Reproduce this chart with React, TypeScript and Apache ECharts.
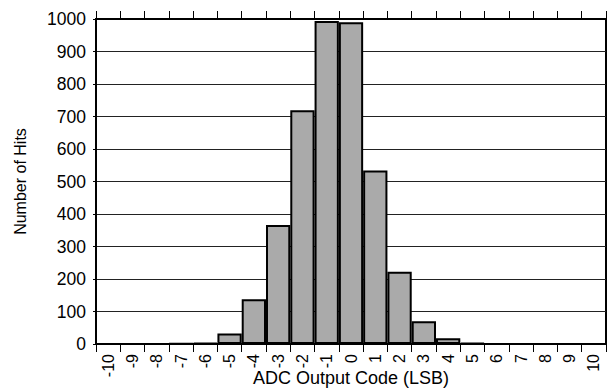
import React, { useEffect, useRef } from "react";
import * as echarts from "echarts";

const categories = ["-10","-9","-8","-7","-6","-5","-4","-3","-2","-1","0","1","2","3","4","5","6","7","8","9","10"];
const hits = [0, 0, 0, 1, 3, 32, 138, 366, 719, 994, 990, 534, 222, 70, 18, 3, 0, 0, 0, 0, 0];
const yTicks = { min: 0, max: 1000, interval: 100 };

const FONT = "Liberation Sans, Arial, sans-serif";

export default function App() {
  const ref = useRef<HTMLDivElement>(null);
  useEffect(() => {
    if (!ref.current) return;
    const chart = echarts.init(ref.current, null, { renderer: "svg" });
    chart.setOption({
      animation: false,
      grid: {
        left: 96, right: 2, top: 19, bottom: 46,
        outerBoundsMode: "none",
        containLabel: false,
        show: true, borderColor: "#000", borderWidth: 2, backgroundColor: "#fff",
      },
      xAxis: [
        {
          type: "category",
          data: categories,
          position: "bottom",
          name: "ADC Output Code (LSB)",
          nameLocation: "middle",
          nameGap: 25,
          nameMoveOverlap: false,
          nameTextStyle: { color: "#000", fontSize: 18, fontFamily: FONT },
          axisLine: { show: true, lineStyle: { color: "#000", width: 2 } },
          axisTick: { show: true, length: 8, lineStyle: { color: "#000", width: 1 } },
          axisLabel: { rotate: 90, color: "#000", fontSize: 16, fontFamily: FONT, margin: 10, interval: 0 },
        },
        {
          type: "category",
          data: categories,
          position: "top",
          axisLine: { show: true, lineStyle: { color: "#000", width: 2 } },
          axisTick: { show: true, length: 8, lineStyle: { color: "#000", width: 1 } },
          axisLabel: { show: false },
        },
      ],
      yAxis: {
        type: "value",
        min: yTicks.min,
        max: yTicks.max,
        interval: yTicks.interval,
        name: "Number of Hits",
        nameLocation: "middle",
        nameGap: 68,
        nameMoveOverlap: false,
        nameTextStyle: { color: "#000", fontSize: 16, fontFamily: FONT },
        axisLine: { show: true, lineStyle: { color: "#000", width: 2 } },
        axisTick: { show: true, length: 3, lineStyle: { color: "#000", width: 1 } },
        axisLabel: { color: "#000", fontSize: 17.5, fontFamily: FONT, margin: 10, formatter: (v: number) => String(v) },
        splitLine: { show: true, lineStyle: { color: "#222", width: 1 } },
      },
      series: [
        {
          type: "bar",
          data: hits,
          xAxisIndex: 0,
          barCategoryGap: "0%",
          itemStyle: { color: "#aaaaaa", borderColor: "#000", borderWidth: 2 },
        },
      ],
    });
    return () => chart.dispose();
  }, []);
  return <div ref={ref} style={{ width: 608, height: 390, position: "absolute", left: 0, top: 0 }} />;
}
